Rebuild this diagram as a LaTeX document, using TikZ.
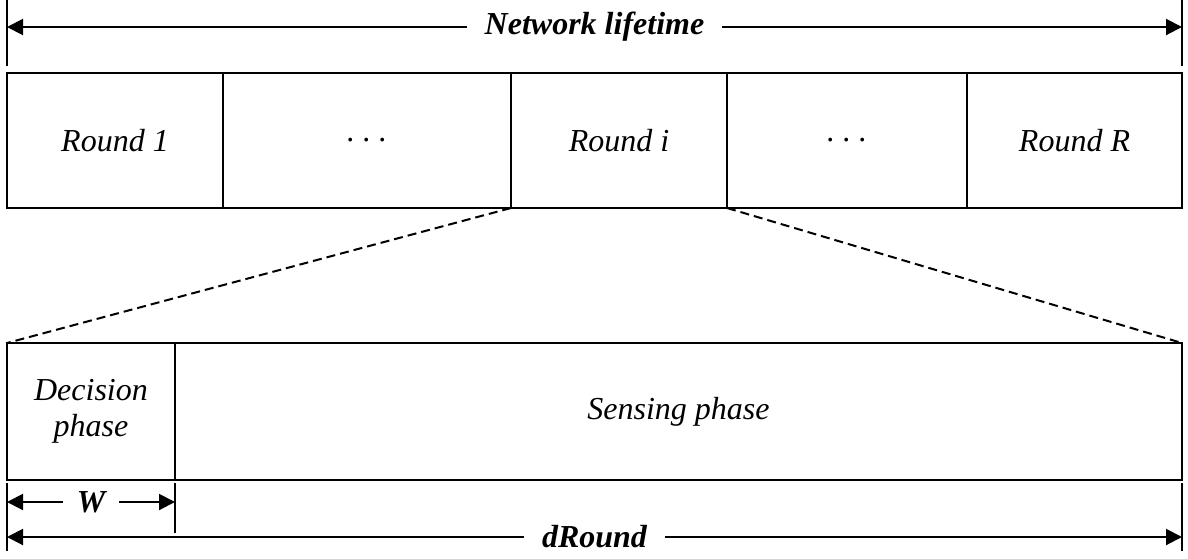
\documentclass[tikz,border=0pt]{standalone}
\usepackage{fontspec}
\setmainfont{Liberation Serif}
\usetikzlibrary{arrows.meta}

\tikzset{
  slot/.style={draw, line width=2pt, inner sep=0pt, outer sep=0pt, align=center,
    font=\fontsize{32}{36}\selectfont\itshape},
  dimlabel/.style={fill=white, inner xsep=18pt, inner ysep=2pt,
    font=\fontsize{32}{36}\selectfont\bfseries\itshape},
  tick/.style={line width=2pt},
  dimline/.style={line width=2pt, <->, >={Triangle[length=16pt,width=16pt]}},
  zoomline/.style={line width=2pt, dash pattern=on 9pt off 5pt}
}

\begin{document}
\begin{tikzpicture}[x=1pt,y=-1pt]
\useasboundingbox (0,0) rectangle (1188,558);

% rounds
\node[slot, minimum width=216pt, minimum height=135pt] (r1) at (115,140.5)   {Round 1};
\node[slot, minimum width=288pt, minimum height=135pt] (d1) at (367,140.5)   {.\ .\ .};
\node[slot, minimum width=216pt, minimum height=135pt] (ri) at (619,140.5)   {Round i};
\node[slot, minimum width=240pt, minimum height=135pt] (d2) at (847,140.5)   {.\ .\ .};
\node[slot, minimum width=215pt, minimum height=135pt] (rR) at (1074.5,140.5) {Round R};

% one round
\node[slot, minimum width=168pt, minimum height=137pt]  (dec)  at (91,411.5)   {Decision\\phase};
\node[slot, minimum width=1007pt, minimum height=137pt] (sens) at (678.5,411.5) {Sensing phase};

\draw[zoomline] (ri.south west) -- (dec.north west);
\draw[zoomline] (ri.south east) -- (sens.north east);

% network lifetime
\coordinate (t1) at (7,0);    \coordinate (t2) at (7,66);
\coordinate (t3) at (1182,0); \coordinate (t4) at (1182,66);
\coordinate (nl) at (7,27);   \coordinate (nr) at (1182,27);
\draw[tick] (t1) -- (t2);
\draw[tick] (t3) -- (t4);
\draw[dimline] (nl) -- (nr) node[dimlabel, midway] {Network lifetime};

% W and dRound
\coordinate (b1) at (7,483);    \coordinate (b2) at (7,551);
\coordinate (b3) at (175,483);  \coordinate (b4) at (175,533);
\coordinate (b5) at (1182,483); \coordinate (b6) at (1182,551);
\coordinate (wl) at (7,502);    \coordinate (wr) at (175,502);
\coordinate (dl) at (7,537);    \coordinate (dr) at (1182,537);
\draw[tick] (b1) -- (b2);
\draw[tick] (b3) -- (b4);
\draw[tick] (b5) -- (b6);
\draw[dimline] (wl) -- (wr) node[dimlabel, midway, inner xsep=14pt] {W};
\draw[dimline] (dl) -- (dr) node[dimlabel, midway] {dRound};
\end{tikzpicture}
\end{document}
